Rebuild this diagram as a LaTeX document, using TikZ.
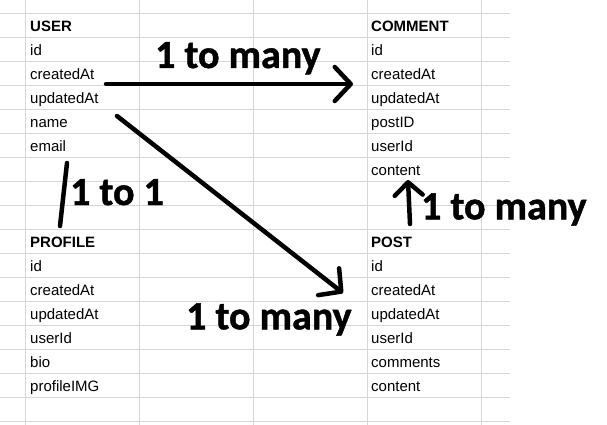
\documentclass[tikz,border=0pt]{standalone}
\usepackage{fontspec}
\setmainfont{Liberation Sans}
\newfontfamily\handfont{Carlito}[BoldFeatures={FakeBold=1.2}]
\usetikzlibrary{arrows.meta}

\begin{document}
\begin{tikzpicture}[x=1pt,y=-1pt]
    \tikzset{
        gridline/.style={draw=black!16,line width=0.9pt},
        field/.style={anchor=base west,inner sep=0pt,font=\fontsize{15}{18}\selectfont},
        head/.style={field,font=\fontsize{15}{18}\selectfont\bfseries},
        hand/.style={line width=4.5pt,line cap=round,line join=round},
        rel/.style={anchor=base west,inner sep=0pt,font=\handfont\fontsize{40}{42}\selectfont\bfseries},
        chev/.tip={Straight Barb[length=16pt,width=34pt,round]},
        chevsmall/.tip={Straight Barb[length=13pt,width=28pt,round]},}
    \useasboundingbox (0,0) rectangle (607,425);
    \fill[white] (0,0) rectangle (607,425);
    % sheet grid
    \foreach \k in {0,...,17} \draw[gridline] (0,13.3+24*\k) -- (510,13.3+24*\k);
    \foreach \x in {25.3,139.3,253.3,367.7,481.7} \draw[gridline] (\x,0) -- (\x,425);
    % tables
    \node[head] (user) at (30,31.8) {USER};
    \foreach \f [count=\i] in {id,createdAt,updatedAt,name,email}
        \node[field] (user\i) at (30,31.8+24*\i) {\f};
    \node[head] (comment) at (371,31.8) {COMMENT};
    \foreach \f [count=\i] in {id,createdAt,updatedAt,postID,userId,content}
        \node[field] (comment\i) at (371,31.8+24*\i) {\f};
    \node[head] (profile) at (30,247.8) {PROFILE};
    \foreach \f [count=\i] in {id,createdAt,updatedAt,userId,bio,profileIMG}
        \node[field] (profile\i) at (30,247.8+24*\i) {\f};
    \node[head] (post) at (371,247.8) {POST};
    \foreach \f [count=\i] in {id,createdAt,updatedAt,userId,comments,content}
        \node[field] (post\i) at (371,247.8+24*\i) {\f};
    % relations
    \coordinate (ucstart) at (106,84);
    \coordinate (ucend) at (353,84);
    \coordinate (upstart) at (117,116);
    \coordinate (upend) at (343,293);
    \coordinate (pctail) at (410,224);
    \coordinate (pchead) at (408,180);
    \coordinate (uptop) at (67,163);
    \coordinate (upbot) at (60,226);
    \draw[hand,-chev] (ucstart) -- (ucend);
    \draw[hand,-chev] (upstart) -- (upend);
    \draw[hand,-chevsmall] (pctail) -- (pchead);
    \draw[hand] (uptop) -- (upbot);
    \node[rel] (ucrel) at (155,68) {1 to many};
    \node[rel] (uprel) at (186,329.3) {1 to many};
    \node[rel] (pcrel) at (421,219.3) {1 to many};
    \node[rel] (onerel) at (70,205) {1 to 1};
\end{tikzpicture}
\end{document}
